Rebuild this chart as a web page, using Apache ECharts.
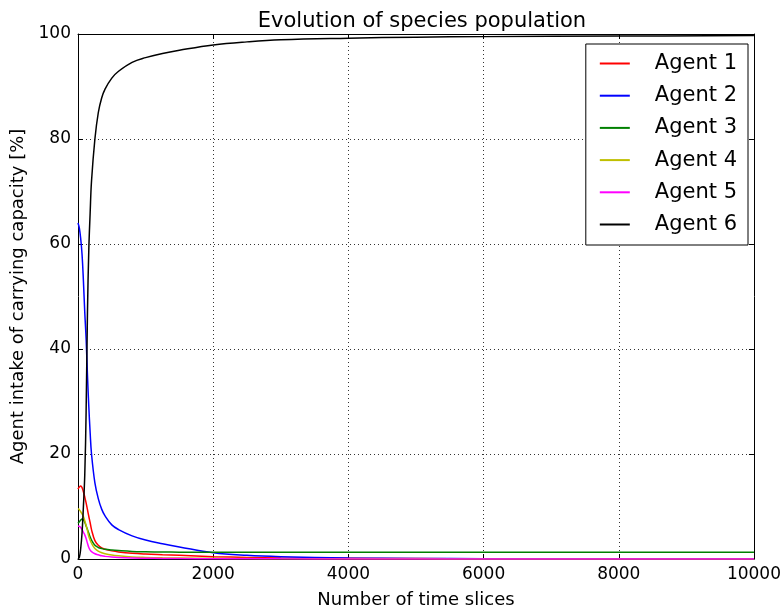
<!DOCTYPE html>
<html>
<head>
<meta charset="utf-8">
<script src="https://cdn.jsdelivr.net/npm/echarts@6/dist/echarts.min.js"></script>
<style>html,body{margin:0;padding:0;background:#fff}#c{width:784px;height:614px}</style>
</head>
<body>
<div id="c"></div>
<script>
const times   = [0, 20, 40, 60, 80, 100, 120, 140, 160, 180, 200, 250, 300, 350, 400, 500, 600, 800, 1000, 1250, 1500, 2000, 2500, 3000, 4000, 5000, 6000, 8000, 10000];
const agent1  = [13.3, 13.7, 13.9, 13.6, 12.8, 11.8, 10.7, 9.4, 8.1, 6.9, 5.6, 3.5, 2.6, 2.1, 1.85, 1.55, 1.35, 1.1, 0.95, 0.82, 0.7, 0.45, 0.3, 0.2, 0.12, 0.08, 0.06, 0.05, 0.04];
const agent2  = [64, 63, 61, 58, 53, 47, 42, 35, 29, 24, 20, 14.5, 11.5, 9.5, 8.2, 6.5, 5.6, 4.4, 3.6, 2.9, 2.3, 1.2, 0.7, 0.45, 0.2, 0.1, 0.07, 0.05, 0.04];
const agent3  = [6.8, 7.1, 7.4, 7.6, 7.5, 7.0, 6.3, 5.6, 4.9, 4.2, 3.6, 2.6, 2.2, 2.0, 1.85, 1.7, 1.6, 1.45, 1.38, 1.33, 1.3, 1.28, 1.27, 1.27, 1.27, 1.27, 1.27, 1.27, 1.27];
const agent4  = [9.6, 9.4, 9.0, 8.6, 8.1, 7.3, 6.4, 5.4, 4.3, 3.6, 3.0, 2.0, 1.5, 1.2, 1.0, 0.75, 0.6, 0.4, 0.3, 0.22, 0.18, 0.12, 0.08, 0.06, 0.04, 0.03, 0.02, 0.02, 0.02];
const agent5  = [6.3, 6.2, 6.0, 5.6, 5.1, 4.6, 3.9, 3.0, 2.2, 1.7, 1.4, 1.0, 0.8, 0.6, 0.5, 0.38, 0.3, 0.2, 0.15, 0.1, 0.08, 0.05, 0.04, 0.03, 0.02, 0.02, 0.02, 0.02, 0.02];
const agent6  = [0, 0.3, 2, 5, 10, 16, 28, 47, 59, 66, 72, 80, 85, 87.8, 89.5, 91.6, 92.9, 94.6, 95.5, 96.3, 96.9, 97.9, 98.5, 98.9, 99.2, 99.4, 99.5, 99.6, 99.7];
const seriesNames = ['Agent 1', 'Agent 2', 'Agent 3', 'Agent 4', 'Agent 5', 'Agent 6'];
const seriesColors = ['#ff0000', '#0000ff', '#008000', '#bfbf00', '#ff00ff', '#000000'];
const xTicks = [0, 2000, 4000, 6000, 8000, 10000];
const yTicks = [0, 20, 40, 60, 80, 100];

const allValues = [agent1, agent2, agent3, agent4, agent5, agent6];
const font = 'DejaVu Sans';
const chart = echarts.init(document.getElementById('c'), null, {renderer: 'canvas'});

const series = allValues.map((vals, i) => ({
  name: seriesNames[i],
  type: 'line',
  xAxisIndex: 0, yAxisIndex: 0,
  data: times.map((t, j) => [t, vals[j]]),
  symbol: 'none',
  showSymbol: false,
  smooth: 0.4,
  lineStyle: {width: 1.5, color: seriesColors[i]},
  itemStyle: {color: seriesColors[i]},
  emphasis: {disabled: true},
  animation: false
}));

const tickStyle = {show: true, inside: true, length: 5, lineStyle: {color: '#000', width: 1}};
const gridLine = {show: true, lineStyle: {color: '#000', width: 1, type: [1, 3], opacity: 0.8}};

chart.setOption({
  backgroundColor: '#fff',
  animation: false,
  title: {
    text: 'Evolution of species population',
    left: 417, top: 6, textAlign: 'center',
    textStyle: {fontFamily: font, fontSize: 21, fontWeight: 'normal', color: '#000'}
  },
  grid: {left: 78, right: 28, top: 34, bottom: 53, containLabel: false},
  legend: {
    orient: 'vertical',
    right: 36, top: 44,
    padding: [9, 11, 10, 14],
    itemGap: 11.2,
    itemWidth: 30, itemHeight: 2,
    icon: 'rect',
    borderColor: '#000', borderWidth: 1,
    backgroundColor: '#fff',
    data: seriesNames.map((n, i) => ({name: n, itemStyle: {color: seriesColors[i]}})),
    textStyle: {fontFamily: font, fontSize: 21, color: '#000', lineHeight: 20, padding: [0, 0, 0, 20]}
  },
  xAxis: [{
    type: 'value', min: xTicks[0], max: xTicks[xTicks.length - 1], interval: 2000,
    name: 'Number of time slices', nameLocation: 'middle', nameGap: 32,
    nameTextStyle: {fontFamily: font, fontSize: 18, color: '#000'},
    axisLine: {show: true, lineStyle: {color: '#000', width: 1}},
    axisTick: tickStyle,
    axisLabel: {fontFamily: font, fontSize: 17, color: '#000', margin: 7, formatter: v => String(v)},
    splitLine: gridLine
  }, {
    type: 'value', position: 'top', min: xTicks[0], max: xTicks[xTicks.length - 1], interval: 2000,
    axisLine: {show: true, onZero: false, lineStyle: {color: '#000', width: 1}},
    axisTick: tickStyle, axisLabel: {show: false}, splitLine: {show: false}
  }],
  yAxis: [{
    type: 'value', min: yTicks[0], max: yTicks[yTicks.length - 1], interval: 20,
    name: 'Agent intake of carrying capacity [%]', nameLocation: 'middle', nameGap: 47,
    nameTextStyle: {fontFamily: font, fontSize: 18, color: '#000'},
    axisLine: {show: true, lineStyle: {color: '#000', width: 1}},
    axisTick: tickStyle,
    axisLabel: {fontFamily: font, fontSize: 17, color: '#000', margin: 7, formatter: v => String(v)},
    splitLine: gridLine
  }, {
    type: 'value', position: 'right', min: yTicks[0], max: yTicks[yTicks.length - 1], interval: 20,
    axisLine: {show: true, onZero: false, lineStyle: {color: '#000', width: 1}},
    axisTick: tickStyle, axisLabel: {show: false}, splitLine: {show: false}
  }],
  series: series
});
</script>
</body>
</html>
